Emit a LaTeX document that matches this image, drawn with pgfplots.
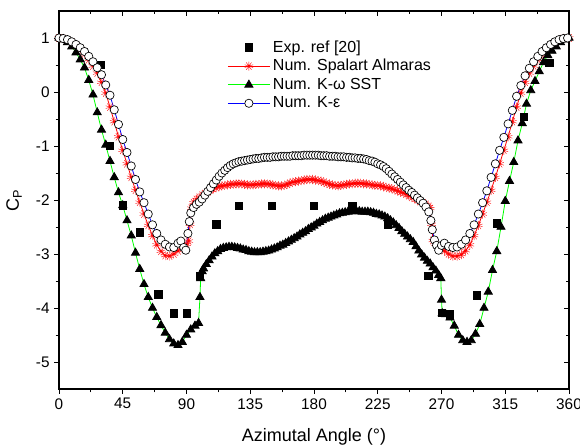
\documentclass[border=0pt]{standalone}
\usepackage{fontspec}
\setmainfont{Liberation Sans}
\usepackage{pgfplots}
\pgfplotsset{compat=1.18}
\usetikzlibrary{plotmarks}

\begin{document}
\begin{tikzpicture}
\pgfplotsset{
  frame/.style={
    scale only axis, width=382.5pt, height=283.5pt,
    xmin=0, xmax=360, ymin=-5.5, ymax=1.5,
    xtick={0,45,...,360}, minor x tick num=1,
    ytick={-5,-4,...,1}, minor y tick num=1,
    axis line style={line width=0.8pt},
    every tick/.style={black, line width=0.7pt},
    major tick length=3.5pt, minor tick length=2.5pt,
  },
}
% top and right ticks, pointing inwards
\begin{axis}[frame, xtick pos=right, ytick pos=right, tick align=inside,
  xticklabels={}, yticklabels={}]
\end{axis}

\begin{axis}[frame, xtick pos=left, ytick pos=left, tick align=outside,
  /pgf/number format/assume math mode=true,
  tick label style={font=\fontsize{11.5}{13}\selectfont},
  xlabel={Azimutal Angle (°)},
  ylabel={C\textsubscript{P}},
  label style={font=\fontsize{13.5}{15}\selectfont},
  every axis x label/.append style={at={(axis description cs:0.5,-0.127)}, anchor=center},
  every axis y label/.append style={at={(axis description cs:-0.088,0.5)}, anchor=center},
  every axis plot post/.append style={
    legend image code/.code={\draw[mark repeat=2,mark phase=2,##1] plot coordinates {(0pt,0pt) (15.75pt,0pt) (31.5pt,0pt)};}},
  legend style={draw=none, fill=none, at={(axis description cs:0.322,0.937)}, anchor=north west,
    font=\fontsize{12}{14.5}\selectfont, row sep=0pt},
  legend cell align=left,
]
% experiment
\addplot[only marks, mark=square*, mark size=2.8pt, mark options={fill=black, draw=black}] coordinates {
(29,0.5) (36,-1.0) (45,-2.1) (57,-2.6) (70,-3.75) (81,-4.1) (90,-4.1) (99.5,-3.4)
(111,-2.45) (127,-2.11) (150,-2.11) (180,-2.11) (207,-2.11) (232,-2.45) (260.5,-3.4)
(270,-4.09) (276,-4.12) (295,-3.76) (309,-2.43) (328,-0.46) (346,0.54)
};
\addlegendentry{Exp. ref [20]}
% Spalart Allmaras
\addplot[red, line width=0.6pt, mark=10-pointed star, mark size=3.4pt, mark options={fill=red, draw=red, line width=0.3pt}] coordinates {
(0,1.00) (3,0.99) (6,0.96) (9,0.92) (12,0.86) (15,0.79) (18,0.70) (21,0.60) (24,0.48) (27,0.35)
(30,0.18) (33,-0.02) (36,-0.28) (39,-0.55) (42,-0.83) (45,-1.08) (48,-1.33) (51,-1.58) (54,-1.82)
(57,-2.04) (60,-2.26) (63,-2.47) (66,-2.66) (69,-2.83) (72,-2.95) (75,-3.03) (78,-3.04) (81,-3.00)
(84,-2.94) (87,-2.88) (90,-2.82) (91.5,-2.76) (92.5,-2.45) (93.5,-2.15)
(95,-2.05) (97,-1.99) (99,-1.95) (101,-1.91) (103,-1.88) (105,-1.85) (107,-1.82) (109,-1.79)
(111,-1.77) (113,-1.75) (115,-1.74) (117,-1.73) (119,-1.72) (121,-1.71) (123,-1.71) (125,-1.70)
(127,-1.70) (129,-1.70) (131,-1.71) (133,-1.72) (135,-1.72) (137,-1.72) (139,-1.71) (141,-1.71)
(143,-1.70) (145,-1.70) (147,-1.70) (149,-1.71) (151,-1.72) (153,-1.73) (155,-1.74) (157,-1.74)
(159,-1.73) (161,-1.71) (163,-1.69) (165,-1.67) (167,-1.66) (169,-1.65) (171,-1.64) (173,-1.63)
(175,-1.62) (177,-1.62) (179,-1.62) (181,-1.63) (183,-1.64) (185,-1.65) (187,-1.67) (189,-1.69)
(191,-1.71) (193,-1.72) (195,-1.73) (197,-1.74) (199,-1.73) (201,-1.72) (203,-1.71) (205,-1.70)
(207,-1.70) (209,-1.69) (211,-1.69) (213,-1.69) (215,-1.70) (217,-1.70) (219,-1.71) (221,-1.72)
(223,-1.73) (225,-1.73) (227,-1.74) (229,-1.75) (231,-1.77) (233,-1.78) (235,-1.79) (237,-1.81)
(239,-1.83) (241,-1.85) (243,-1.87) (245,-1.89) (247,-1.92) (249,-1.95) (251,-1.97) (253,-2.00)
(255,-2.03) (257,-2.05) (259,-2.08) (261,-2.12) (262,-2.16) (263,-2.45)
(264,-2.75) (266,-2.82) (269,-2.88) (272,-2.94) (275,-3.00) (278,-3.04) (281,-3.04) (284,-3.01)
(287,-2.94) (290,-2.83) (293,-2.66) (296,-2.47) (299,-2.26) (302,-2.04) (305,-1.82) (308,-1.58)
(311,-1.33) (314,-1.08) (317,-0.83) (320,-0.55) (323,-0.28) (326,-0.02) (329,0.18) (332,0.35)
(335,0.48) (338,0.60) (341,0.70) (344,0.79) (347,0.86) (350,0.92) (353,0.96) (356,0.99) (360,1.00)
};
\addlegendentry{Num. Spalart Almaras}
% K-omega SST
\addplot[green, line width=0.6pt, mark=triangle*, mark size=3.5pt, mark options={fill=black, draw=black}] coordinates {
(0,1.00) (3,0.97) (6,0.92) (9,0.84) (12,0.73) (15,0.60) (18,0.45) (21,0.22) (24,-0.05) (27,-0.38)
(30,-0.70) (33,-0.98) (36,-1.28) (39,-1.58) (42,-1.86) (45,-2.10) (48,-2.38) (51,-2.66) (54,-2.98)
(57,-3.28) (60,-3.56) (63,-3.80) (66,-4.00) (69,-4.17) (72,-4.32) (75,-4.46) (78,-4.58) (81,-4.66)
(84,-4.69) (87,-4.63) (90,-4.50) (93,-4.40) (96,-4.33) (98.5,-4.28) (99.5,-3.80) (100,-3.45)
(101,-3.32) (102,-3.27) (104,-3.19) (106,-3.12) (108,-3.05) (110,-2.99) (112,-2.95) (114,-2.91)
(116,-2.89) (118,-2.88) (120,-2.87) (122,-2.87) (124,-2.88) (126,-2.89) (128,-2.90) (130,-2.92)
(132,-2.93) (134,-2.95) (136,-2.96) (138,-2.97) (140,-2.97) (142,-2.97) (144,-2.96) (146,-2.95)
(148,-2.94) (150,-2.92) (152,-2.90) (154,-2.88) (156,-2.85) (158,-2.83) (160,-2.80) (162,-2.77)
(164,-2.74) (166,-2.71) (168,-2.68) (170,-2.64) (172,-2.61) (174,-2.58) (176,-2.54) (178,-2.51)
(180,-2.48) (182,-2.44) (184,-2.41) (186,-2.38) (188,-2.35) (190,-2.33) (192,-2.31) (194,-2.29)
(196,-2.27) (198,-2.25) (200,-2.24) (202,-2.23) (204,-2.22) (206,-2.21) (208,-2.21) (210,-2.21)
(212,-2.21) (214,-2.22) (216,-2.22) (218,-2.22) (220,-2.23) (222,-2.24) (224,-2.26) (226,-2.27)
(228,-2.29) (230,-2.31) (232,-2.34) (234,-2.38) (236,-2.42) (238,-2.47) (240,-2.52) (242,-2.58)
(244,-2.63) (246,-2.68) (248,-2.73) (250,-2.78) (252,-2.86) (254,-2.94) (256,-3.01) (258,-3.07)
(260,-3.13) (262,-3.18) (264,-3.25) (266,-3.31) (268,-3.39) (269.5,-3.45)
(270,-3.85) (270.5,-4.10) (273,-4.12) (276,-4.18) (279,-4.33) (282,-4.50)
(285,-4.60) (288,-4.63) (291,-4.60) (294,-4.48) (297,-4.30) (300,-4.00) (303,-3.70) (306,-3.30)
(309,-2.95) (312,-2.50) (315,-2.02) (318,-1.65) (321,-1.30) (324,-0.90) (327,-0.58) (330,-0.22)
(333,0.03) (336,0.20) (339,0.38) (342,0.55) (345,0.68) (348,0.76) (351,0.84) (354,0.92) (357,0.97)
(360,1.00)
};
\addlegendentry{Num. K-ω SST}
% K-epsilon
\addplot[blue, line width=0.6pt, mark=*, mark size=3.1pt, mark options={fill=white, draw=black, line width=0.5pt}] coordinates {
(0,1.00) (3,0.99) (6,0.97) (9,0.93) (12,0.88) (15,0.82) (18,0.75) (21,0.66) (24,0.56) (27,0.45)
(30,0.32) (33,0.13) (36,-0.06) (39,-0.33) (42,-0.60) (45,-0.88) (48,-1.12) (51,-1.37) (54,-1.62)
(57,-1.85) (60,-2.05) (63,-2.26) (66,-2.46) (69,-2.62) (72,-2.74) (75,-2.82) (78,-2.87) (81,-2.88)
(84,-2.80) (86,-2.76) (88,-2.88) (89.5,-2.93) (91,-2.62) (92,-2.40) (93,-2.24)
(95,-2.14) (97,-2.08) (99,-2.04) (101,-1.98) (103,-1.91) (105,-1.84) (107,-1.77) (109,-1.70)
(111,-1.63) (113,-1.56) (115,-1.50) (117,-1.45) (119,-1.40) (121,-1.36) (123,-1.33) (125,-1.31)
(127,-1.29) (129,-1.28) (131,-1.27) (133,-1.26) (135,-1.25) (137,-1.24) (139,-1.23) (141,-1.23)
(143,-1.22) (145,-1.21) (147,-1.21) (149,-1.21) (151,-1.20) (153,-1.20) (155,-1.20) (157,-1.19)
(159,-1.19) (161,-1.19) (163,-1.19) (165,-1.18) (167,-1.18) (169,-1.18) (171,-1.18) (173,-1.17)
(175,-1.17) (177,-1.17) (179,-1.17) (181,-1.17) (183,-1.17) (185,-1.18) (187,-1.18) (189,-1.18)
(191,-1.19) (193,-1.19) (195,-1.19) (197,-1.20) (199,-1.20) (201,-1.20) (203,-1.21) (205,-1.21)
(207,-1.22) (209,-1.22) (211,-1.23) (213,-1.23) (215,-1.24) (217,-1.25) (219,-1.27) (221,-1.28)
(223,-1.30) (225,-1.33) (227,-1.35) (229,-1.38) (231,-1.42) (233,-1.47) (235,-1.52) (237,-1.57)
(239,-1.62) (241,-1.67) (243,-1.72) (245,-1.77) (247,-1.82) (249,-1.86) (251,-1.91) (253,-1.96)
(255,-2.01) (257,-2.06) (259,-2.13) (261,-2.22) (262.5,-2.38)
(263.5,-2.55) (265,-2.74) (266.5,-2.84) (268,-2.93) (270,-2.84) (272,-2.80) (275,-2.86) (278,-2.88)
(281,-2.87) (284,-2.82) (287,-2.74) (290,-2.62) (293,-2.46) (296,-2.26) (299,-2.05) (302,-1.83)
(305,-1.58) (308,-1.33) (311,-1.08) (314,-0.84) (317,-0.59) (320,-0.34) (323,-0.08) (326,0.12)
(329,0.30) (332,0.44) (335,0.56) (338,0.66) (341,0.75) (344,0.82) (347,0.88) (350,0.93) (353,0.97)
(356,0.99) (359,1.00)
};
\addlegendentry{Num. K-ε}
\end{axis}
\pgfresetboundingbox
\path (-44.25pt,-44.25pt) rectangle (390.75pt,291.75pt);
\end{tikzpicture}
\end{document}
